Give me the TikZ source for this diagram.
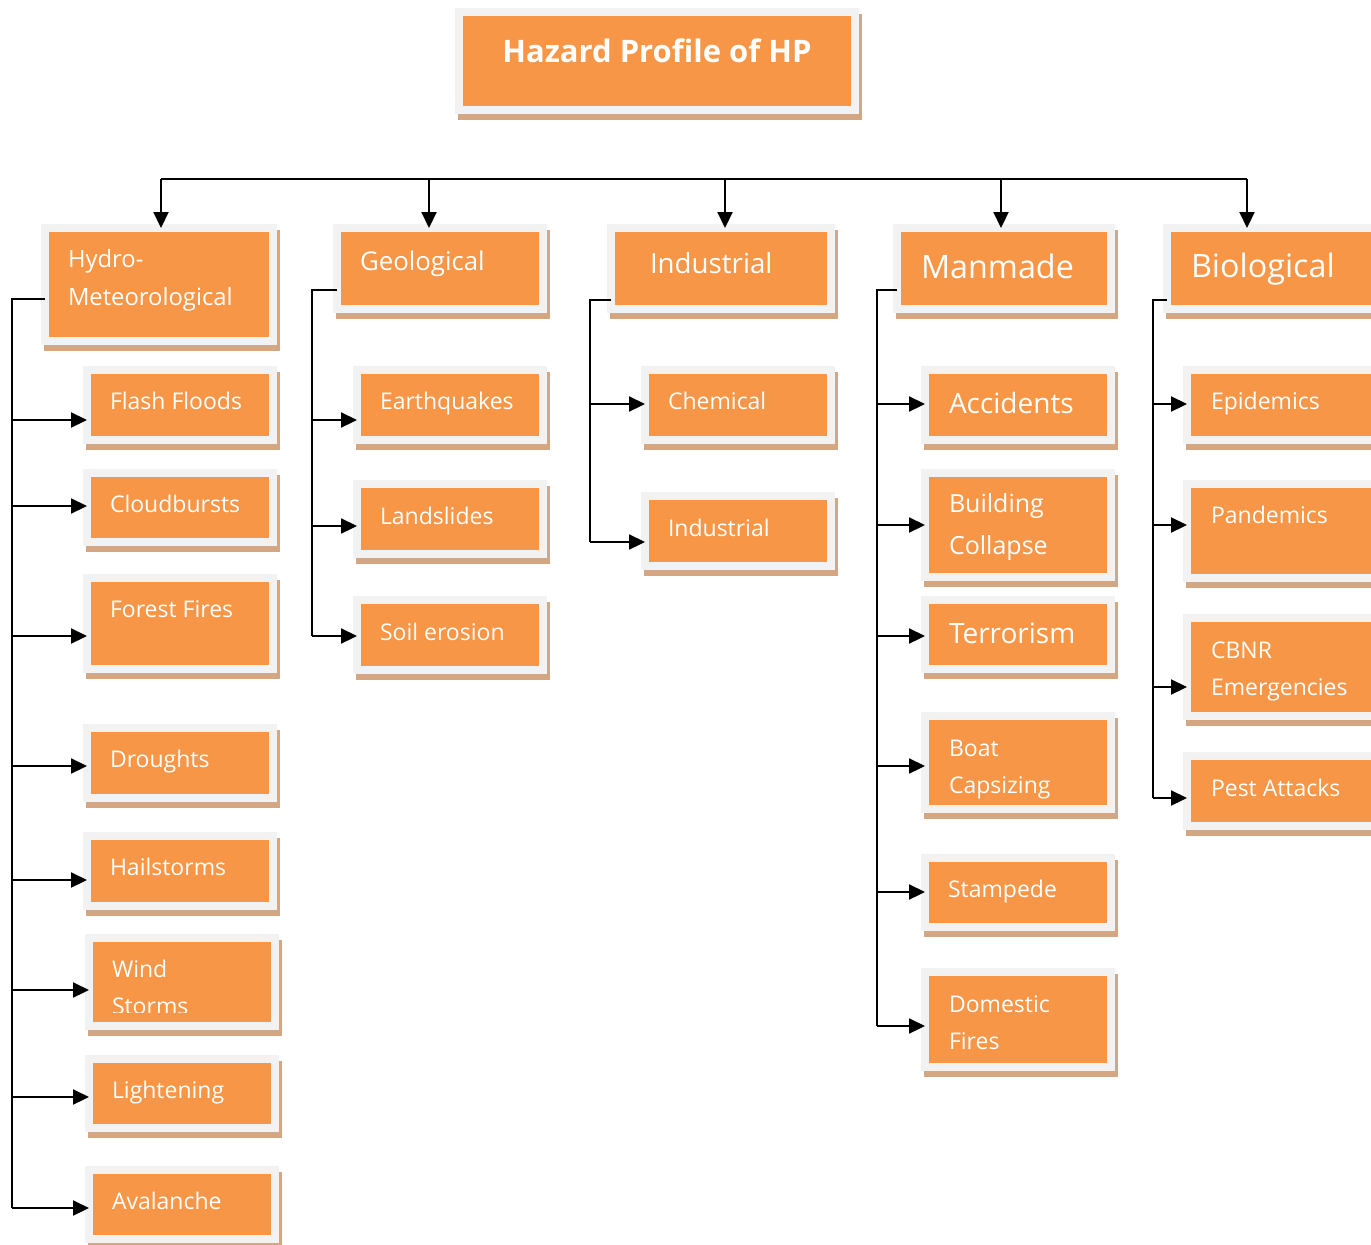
\documentclass[tikz,border=0pt]{standalone}
\usepackage{fontspec}
\setmainfont{Open Sans}
\usetikzlibrary{arrows.meta,shadows,calc}
\definecolor{orangeF}{HTML}{F79646}
\definecolor{frameG}{HTML}{F2F2F2}
\definecolor{tanS}{HTML}{D5A682}
\newcommand\obox[5]{\node[obox, minimum width={#4-#2+8}, minimum height={#5-#3+8}] (#1) at ({(#2+#4)/2},{(#3+#5)/2}) {};}
\newcommand\branch[3]{\coordinate (br-#3) at (#1,#2); \draw[arr] (br-#3) -- (#3.west |- br-#3);}
\newcommand\fs[1]{\fontsize{#1}{#1}\selectfont}
\newcommand\two[3]{\vtop{\baselineskip=#1pt\hbox{#2}\hbox{#3}}}
\begin{document}
\begin{tikzpicture}[x=1pt,y=-1pt,
  obox/.style={rectangle, fill=orangeF, draw=frameG, line width=8pt, inner sep=0pt, outer sep=0pt,
    drop shadow={shadow xshift=3pt, shadow yshift=-6pt, fill=tanS, draw=tanS, line width=8pt, opacity=1}},
  txt/.style={anchor=base west, inner sep=0pt, outer sep=0pt, text=white},
  arr/.style={line width=2.2pt, -{Triangle[length=16pt,width=15pt]}},
  ln/.style={line width=2.2pt}]
\useasboundingbox (0,0) rectangle (1371,1245);

% ---- boxes
\obox{title}{463}{16}{851}{106}
\obox{hm}{49}{232}{269}{337}
\obox{geo}{341}{232}{539}{305}
\obox{ind}{615}{232}{827}{305}
\obox{man}{901}{232}{1107}{305}
\obox{bio}{1171}{232}{1375}{305}

\obox{ff}{91}{374}{269}{436}
\obox{cb}{91}{477}{269}{538}
\obox{fo}{91}{582}{269}{665}
\obox{dr}{91}{732}{269}{794}
\obox{ha}{91}{840}{269}{902}
\obox{ws}{93}{942}{271}{1022}
\obox{li}{93}{1063}{271}{1124}
\obox{av}{93}{1174}{271}{1235}

\obox{eq}{361}{374}{539}{436}
\obox{ls}{361}{488}{539}{550}
\obox{se}{361}{604}{539}{666}

\obox{ch}{649}{374}{827}{436}
\obox{inb}{649}{500}{827}{562}

\obox{ac}{929}{374}{1107}{436}
\obox{bc}{929}{477}{1107}{573}
\obox{te}{929}{604}{1107}{665}
\obox{bo}{929}{720}{1107}{805}
\obox{st}{929}{862}{1107}{923}
\obox{df}{929}{976}{1107}{1063}

\obox{ep}{1191}{374}{1375}{436}
\obox{pa}{1191}{488}{1375}{574}
\obox{cn}{1191}{622}{1375}{712}
\obox{pe}{1191}{760}{1375}{822}

% ---- texts
\node[txt, anchor=base, font=\bfseries\fs{31}] (t-title) at (657,62) {Hazard Profile of HP};
\node[txt, font=\fs{23.8}] (t-hm) at (68,267.7) {\two{37.5}{Hydro-}{Meteorological}};
\node[txt, font=\fs{25.8}] (t-geo) at (360,270) {Geological};
\node[txt, font=\fs{27.7}] (t-ind) at (650,273) {Industrial};
\node[txt, font=\fs{32.3}] (t-man) at (921,278) {Manmade};
\node[txt, font=\fs{32.3}] (t-bio) at (1191,277) {Biological};

\node[txt, font=\fs{23}] (t-ff) at (110,409) {Flash Floods};
\node[txt, font=\fs{23}] (t-cb) at (110,512) {Cloudbursts};
\node[txt, font=\fs{23}] (t-fo) at (110,617) {Forest Fires};
\node[txt, font=\fs{23}] (t-dr) at (110,767) {Droughts};
\node[txt, font=\fs{23}] (t-ha) at (110,875) {Hailstorms};
\begin{scope}
\clip (93,942) rectangle (271,1012);
\node[txt, font=\fs{23}] (t-ws) at (112,977) {\two{37}{Wind}{Storms}};
\end{scope}
\node[txt, font=\fs{23}] (t-li) at (112,1098) {Lightening};
\node[txt, font=\fs{23}] (t-av) at (112,1209) {Avalanche};

\node[txt, font=\fs{23}] (t-eq) at (380,409) {Earthquakes};
\node[txt, font=\fs{23}] (t-ls) at (380,524) {Landslides};
\node[txt, font=\fs{23}] (t-se) at (380,640) {Soil erosion};

\node[txt, font=\fs{23}] (t-ch) at (668,409) {Chemical};
\node[txt, font=\fs{23}] (t-inb) at (668,536) {Industrial};

\node[txt, font=\fs{28}] (t-ac) at (949,413) {Accidents};
\node[txt, font=\fs{25}] (t-bc) at (949,512) {\two{42}{Building}{Collapse}};
\node[txt, font=\fs{28}] (t-te) at (949,643) {Terrorism};
\node[txt, font=\fs{23}] (t-bo) at (949,756) {\two{37}{Boat}{Capsizing}};
\node[txt, font=\fs{23}] (t-st) at (948,897) {Stampede};
\node[txt, font=\fs{23}] (t-df) at (949,1012) {\two{37}{Domestic}{Fires}};

\node[txt, font=\fs{23}] (t-ep) at (1211,409) {Epidemics};
\node[txt, font=\fs{23}] (t-pa) at (1211,523) {Pandemics};
\node[txt, font=\fs{23}] (t-cn) at (1211,658) {\two{37}{CBNR}{Emergencies}};
\node[txt, font=\fs{23}] (t-pe) at (1211,796) {Pest Attacks};

% ---- top bus
\coordinate (b1) at (161,179);
\coordinate (b2) at (429,179);
\coordinate (b3) at (725,179);
\coordinate (b4) at (1001,179);
\coordinate (b5) at (1247,179);
\draw[ln] (b1) -- (b5);
\draw[arr] (b1) -- (hm.north -| b1);
\draw[arr] (b2) -- (geo.north -| b2);
\draw[arr] (b3) -- (ind.north -| b3);
\draw[arr] (b4) -- (man.north -| b4);
\draw[arr] (b5) -- (bio.north -| b5);

% ---- Hydro-Meteorological
\coordinate (hT) at (12,299);
\coordinate (hB) at (12,1208);
\draw[ln] ($(hm.west)+(0,14.5)$) -- (hT) -- (hB);
\branch{12}{420}{ff}
\branch{12}{506}{cb}
\branch{12}{636}{fo}
\branch{12}{766}{dr}
\branch{12}{880}{ha}
\branch{12}{990}{ws}
\branch{12}{1097}{li}
\branch{12}{1208}{av}

% ---- Geological
\coordinate (gT) at (312,290);
\coordinate (gB) at (312,636);
\draw[ln] ($(geo.west)+(0,21.5)$) -- (gT) -- (gB);
\branch{312}{420}{eq}
\branch{312}{526}{ls}
\branch{312}{636}{se}

% ---- Industrial
\coordinate (iT) at (590,300);
\coordinate (iB) at (590,542);
\draw[ln] ($(ind.west)+(0,31.5)$) -- (iT) -- (iB);
\branch{590}{404}{ch}
\branch{590}{542}{inb}

% ---- Manmade
\coordinate (mT) at (877,290);
\coordinate (mB) at (877,1026);
\draw[ln] ($(man.west)+(0,21.5)$) -- (mT) -- (mB);
\branch{877}{404}{ac}
\branch{877}{525}{bc}
\branch{877}{636}{te}
\branch{877}{766}{bo}
\branch{877}{892}{st}
\branch{877}{1026}{df}

% ---- Biological
\coordinate (bT) at (1153,300);
\coordinate (bB) at (1153,798);
\draw[ln] ($(bio.west)+(0,31.5)$) -- (bT) -- (bB);
\branch{1153}{404}{ep}
\branch{1153}{525}{pa}
\branch{1153}{687}{cn}
\branch{1153}{798}{pe}
\end{tikzpicture}
\end{document}
